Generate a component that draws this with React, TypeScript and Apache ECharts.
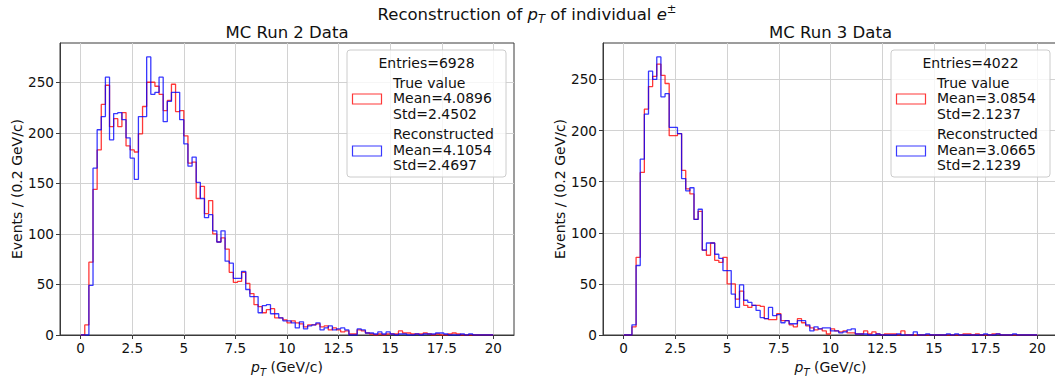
import React, { useEffect, useRef } from "react";
import * as echarts from "echarts";

// ---- Histogram binning (0 to 20 GeV/c, 0.2 GeV/c bins) ----
const BIN_START = 0;
const BIN_WIDTH = 0.2;

// ---- Tick labels ----
const xTicks = [0, 2.5, 5, 7.5, 10, 12.5, 15, 17.5, 20];
const yTicks = [0, 50, 100, 150, 200, 250];

// ---- MC Run 2 ----
const run2True = [
  0, 10, 72, 144, 183, 228, 247, 206, 214, 206,
  220, 187, 183, 181, 199, 226, 250, 250, 246, 238,
  222, 232, 248, 221, 222, 197, 170, 171, 135, 147,
  120, 133, 100, 92, 96, 85, 62, 52, 53, 62,
  51, 41, 30, 28, 22, 25, 26, 17, 17, 15,
  12, 14, 12, 11, 8, 10, 10, 11, 8, 9,
  5, 7, 5, 3, 4, 1, 1, 5, 4, 2,
  1, 0, 1, 0, 1, 1, 1, 4, 2, 2,
  1, 1, 1, 2, 1, 0, 1, 0, 0, 1,
  2, 1, 0, 0, 0, 0, 0, 0, 0, 0,
];
const run2Reco = [
  0, 0, 49, 165, 203, 216, 255, 193, 219, 220,
  213, 195, 175, 154, 216, 216, 275, 238, 240, 255,
  211, 231, 240, 240, 213, 189, 167, 176, 151, 135,
  116, 119, 103, 92, 103, 73, 71, 56, 56, 63,
  45, 38, 38, 22, 29, 30, 21, 21, 17, 14,
  14, 12, 7, 13, 6, 9, 10, 12, 5, 7,
  9, 5, 6, 7, 5, 0, 0, 6, 5, 2,
  2, 1, 3, 1, 3, 1, 0, 1, 1, 0,
  0, 1, 0, 1, 1, 1, 2, 2, 1, 0,
  0, 0, 1, 0, 1, 0, 0, 0, 0, 0,
];

// ---- MC Run 3 ----
const run3True = [
  0, 0, 8, 76, 159, 221, 243, 253, 265, 254,
  246, 195, 195, 197, 161, 143, 138, 113, 121, 83,
  78, 90, 73, 71, 76, 50, 50, 35, 43, 29,
  27, 29, 29, 28, 16, 15, 15, 21, 14, 14,
  10, 8, 16, 12, 9, 7, 5, 6, 4, 1,
  6, 4, 3, 4, 2, 2, 1, 1, 4, 1,
  3, 1, 0, 1, 1, 1, 0, 4, 0, 0,
  0, 0, 0, 0, 0, 0, 0, 0, 0, 0,
  0, 0, 1, 1, 0, 1, 0, 0, 0, 1,
  1, 0, 0, 0, 0, 0, 0, 0, 0, 0,
];
const run3Reco = [
  0, 0, 10, 68, 172, 216, 258, 250, 272, 233,
  236, 203, 203, 197, 153, 141, 144, 113, 123, 83,
  90, 90, 79, 75, 63, 63, 40, 27, 49, 34,
  32, 29, 24, 17, 16, 27, 19, 20, 12, 14,
  11, 11, 14, 14, 10, 4, 8, 6, 7, 7,
  4, 4, 2, 3, 5, 6, 1, 1, 1, 0,
  0, 1, 0, 0, 0, 0, 1, 0, 0, 0,
  3, 0, 0, 1, 0, 0, 0, 0, 1, 0,
  1, 0, 0, 0, 0, 0, 0, 1, 0, 0,
  1, 0, 0, 0, 1, 0, 0, 0, 0, 0,
];

const legendInfo = [
  { entries: "Entries=6928", trueText: ["True value", "Mean=4.0896", "Std=2.4502"], recoText: ["Reconstructed", "Mean=4.1054", "Std=2.4697"] },
  { entries: "Entries=4022", trueText: ["True value", "Mean=3.0854", "Std=2.1237"], recoText: ["Reconstructed", "Mean=3.0665", "Std=2.1239"] },
];

const FONT = "DejaVu Sans";
const TEXT = "#111111";
const AXIS = "#3a3a3a";
const GRID = "#d2d2d2";
const RED = "rgba(255,0,0,0.78)";
const BLUE = "rgba(0,0,255,0.78)";

function stepPoints(values: number[]) {
  const pts: number[][] = [[BIN_START, 0]];
  values.forEach((v, i) => {
    const x0 = BIN_START + i * BIN_WIDTH;
    pts.push([x0, v], [x0 + BIN_WIDTH, v]);
  });
  pts.push([BIN_START + values.length * BIN_WIDTH, 0]);
  return pts;
}

const subRich = {
  it: { fontFamily: FONT, fontSize: 14, fontStyle: "italic", color: TEXT, lineHeight: 20 },
  sub: { fontFamily: FONT, fontSize: 10, fontStyle: "italic", color: TEXT, lineHeight: 12, verticalAlign: "bottom" },
  n: { fontFamily: FONT, fontSize: 14, color: TEXT, lineHeight: 20 },
};

function makeXAxis(gridIndex: number) {
  return {
    type: "value",
    gridIndex,
    min: -1,
    max: 21,
    axisLine: { show: true, onZero: false, lineStyle: { color: AXIS, width: 1 } },
    axisTick: { show: true, inside: false, length: 4, customValues: xTicks, lineStyle: { color: AXIS, width: 1 } },
    axisLabel: { customValues: xTicks, margin: 6, color: TEXT, fontFamily: FONT, fontSize: 13.6, hideOverlap: false },
    splitLine: { show: true, lineStyle: { color: GRID, width: 1 } },
    name: "{it|p}{sub|T}{n| (GeV/c)}",
    nameLocation: "middle",
    nameGap: 22,
    nameTextStyle: { rich: subRich },
  };
}

function makeYAxis(gridIndex: number, max: number) {
  return {
    type: "value",
    gridIndex,
    min: 0,
    max,
    axisLine: { show: true, onZero: false, lineStyle: { color: AXIS, width: 1 } },
    axisTick: { show: true, inside: false, length: 4, customValues: yTicks, lineStyle: { color: AXIS, width: 1 } },
    axisLabel: { customValues: yTicks, margin: 6, color: TEXT, fontFamily: FONT, fontSize: 13.6 },
    splitLine: { show: true, lineStyle: { color: GRID, width: 1 } },
    name: "Events / (0.2 GeV/c)",
    nameLocation: "middle",
    nameRotate: 90,
    nameGap: 36,
    nameTextStyle: { fontFamily: FONT, fontSize: 14, color: TEXT },
  };
}

function legendGraphics(x: number, info: (typeof legendInfo)[number]) {
  const w = 159;
  return [
    {
      type: "rect",
      shape: { x, y: 50, width: w, height: 127, r: 3 },
      style: { fill: "rgba(255,255,255,0.8)", stroke: "#cccccc", lineWidth: 1 },
      z: 100,
    },
    {
      type: "text",
      x: x + w / 2,
      y: 63,
      style: { text: info.entries, fontFamily: FONT, fontSize: 14, fill: TEXT, align: "center", verticalAlign: "middle" },
      z: 101,
    },
    {
      type: "rect",
      shape: { x: x + 5.5, y: 94, width: 29, height: 10 },
      style: { fill: "none", stroke: RED, lineWidth: 1.2 },
      z: 101,
    },
    {
      type: "text",
      x: x + 46,
      y: 98.3,
      style: { text: info.trueText.join("\n"), fontFamily: FONT, fontSize: 14, lineHeight: 15.4, fill: TEXT, align: "left", verticalAlign: "middle" },
      z: 101,
    },
    {
      type: "rect",
      shape: { x: x + 5.5, y: 146, width: 29, height: 10 },
      style: { fill: "none", stroke: BLUE, lineWidth: 1.2 },
      z: 101,
    },
    {
      type: "text",
      x: x + 46,
      y: 149.8,
      style: { text: info.recoText.join("\n"), fontFamily: FONT, fontSize: 14, lineHeight: 15.4, fill: TEXT, align: "left", verticalAlign: "middle" },
      z: 101,
    },
  ];
}

export default function App() {
  const ref = useRef<HTMLDivElement>(null);

  useEffect(() => {
    document.body.style.margin = "0";
    if (!ref.current) return;
    const chart = echarts.init(ref.current, undefined, { renderer: "svg" });

    const series = [
      { data: stepPoints(run2True), color: RED, x: 0 },
      { data: stepPoints(run2Reco), color: BLUE, x: 0 },
      { data: stepPoints(run3True), color: RED, x: 1 },
      { data: stepPoints(run3Reco), color: BLUE, x: 1 },
    ].map((s, i) => ({
      type: "line",
      xAxisIndex: s.x,
      yAxisIndex: s.x,
      data: s.data,
      showSymbol: false,
      symbol: "none",
      lineStyle: { color: s.color, width: 1.3 },
      itemStyle: { color: s.color },
      z: 3 + i,
      silent: true,
    }));

    const titleRich = {
      n: { fontFamily: FONT, fontSize: 16.5, fill: TEXT, lineHeight: 22 },
      it: { fontFamily: FONT, fontSize: 16.5, fontStyle: "italic", fill: TEXT, lineHeight: 22 },
      sub: { fontFamily: FONT, fontSize: 11.5, fontStyle: "italic", fill: TEXT, lineHeight: 13, verticalAlign: "bottom" },
      sup: { fontFamily: FONT, fontSize: 11.5, fill: TEXT, lineHeight: 12, verticalAlign: "top" },
    };

    chart.setOption({
      animation: false,
      backgroundColor: "#ffffff",
      grid: [
        { left: 60, width: 454, top: 43, height: 292, outerBoundsMode: "none", containLabel: false, show: true, borderColor: AXIS, borderWidth: 1, backgroundColor: "transparent" },
        { left: 603, width: 455, top: 43, height: 292, outerBoundsMode: "none", containLabel: false, show: true, borderColor: AXIS, borderWidth: 1, backgroundColor: "transparent" },
      ],
      xAxis: [makeXAxis(0), makeXAxis(1)],
      yAxis: [makeYAxis(0, 288.8), makeYAxis(1, 285.6)],
      series,
      graphic: [
        {
          type: "text",
          x: 527,
          y: 14,
          style: {
            text: "{n|Reconstruction of }{it|p}{sub|T}{n| of individual }{it|e}{sup|±}",
            rich: titleRich,
            align: "center",
            verticalAlign: "middle",
          },
        },
        {
          type: "text",
          x: 287,
          y: 32,
          style: { text: "MC Run 2 Data", fontFamily: FONT, fontSize: 16.5, fill: TEXT, align: "center", verticalAlign: "middle" },
        },
        {
          type: "text",
          x: 830.5,
          y: 32,
          style: { text: "MC Run 3 Data", fontFamily: FONT, fontSize: 16.5, fill: TEXT, align: "center", verticalAlign: "middle" },
        },
        ...legendGraphics(347, legendInfo[0]),
        ...legendGraphics(891, legendInfo[1]),
      ],
    });

    return () => chart.dispose();
  }, []);

  return <div ref={ref} style={{ width: 1055, height: 379 }} />;
}
